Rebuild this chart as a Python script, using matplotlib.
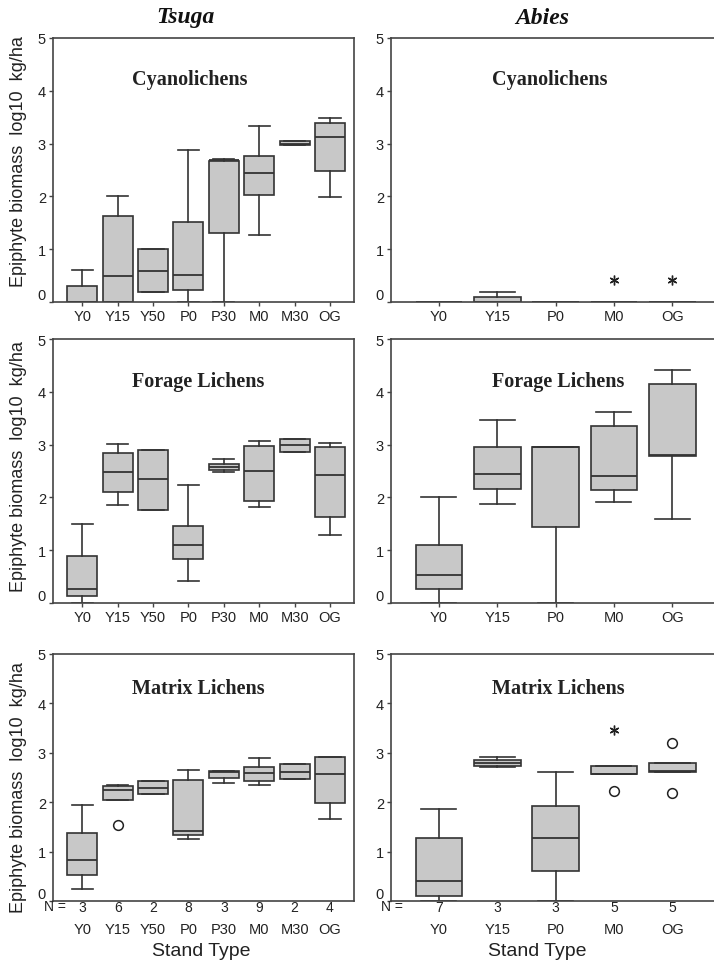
import matplotlib
matplotlib.use("Agg")
import matplotlib.pyplot as plt

plt.rcParams['font.family'] = ['Liberation Sans', 'DejaVu Sans']

W, H = 714, 979

tsuga_sites = ["Y0", "Y15", "Y50", "P0", "P30", "M0", "M30", "OG"]
abies_sites = ["Y0", "Y15", "P0", "M0", "OG"]
tsuga_n = [3, 6, 2, 8, 3, 9, 2, 4]
abies_n = [7, 3, 3, 5, 5]

# Cyanolichens, Tsuga
cy_t_lo = [0, 0, 0.18, 0, 0, 1.27, 2.97, 1.99]
cy_t_q1 = [0, 0, 0.18, 0.22, 1.31, 2.03, 2.97, 2.48]
cy_t_med = [0, 0.5, 0.58, 0.51, 2.68, 2.45, 3.0, 3.13]
cy_t_q3 = [0.3, 1.63, 1.01, 1.52, 2.67, 2.76, 3.04, 3.39]
cy_t_hi = [0.61, 2.0, 1.01, 2.87, 2.71, 3.34, 3.04, 3.48]

# Cyanolichens, Abies
cy_a_lo = [0, 0, 0, 0, 0]
cy_a_q1 = [0, 0, 0, 0, 0]
cy_a_med = [0, 0, 0, 0, 0]
cy_a_q3 = [0, 0.1, 0, 0, 0]
cy_a_hi = [0, 0.18, 0, 0, 0]
cy_a_star_pos = [3, 4]
cy_a_star_val = [0.41, 0.41]

# Forage lichens, Tsuga
fo_t_lo = [0, 1.85, 1.77, 0.41, 2.48, 1.81, 2.86, 1.28]
fo_t_q1 = [0.13, 2.1, 1.77, 0.83, 2.52, 1.93, 2.86, 1.62]
fo_t_med = [0.27, 2.49, 2.34, 1.1, 2.58, 2.5, 3.0, 2.43]
fo_t_q3 = [0.89, 2.85, 2.9, 1.45, 2.64, 2.97, 3.11, 2.96]
fo_t_hi = [1.5, 3.01, 2.9, 2.23, 2.72, 3.07, 3.11, 3.03]

# Forage lichens, Abies
fo_a_lo = [0, 1.88, 0, 1.91, 1.6]
fo_a_q1 = [0.26, 2.16, 1.44, 2.14, 2.79]
fo_a_med = [0.53, 2.45, 2.95, 2.41, 2.8]
fo_a_q3 = [1.09, 2.96, 2.96, 3.35, 4.14]
fo_a_hi = [2.0, 3.47, 2.96, 3.61, 4.41]

# Matrix lichens, Tsuga
ma_t_lo = [0.25, 2.05, 2.17, 1.25, 2.39, 2.34, 2.46, 1.66]
ma_t_q1 = [0.52, 2.05, 2.17, 1.34, 2.49, 2.43, 2.46, 1.99]
ma_t_med = [0.83, 2.24, 2.29, 1.42, 2.61, 2.6, 2.61, 2.58]
ma_t_q3 = [1.38, 2.32, 2.42, 2.45, 2.63, 2.71, 2.77, 2.91]
ma_t_hi = [1.95, 2.34, 2.42, 2.66, 2.64, 2.9, 2.77, 2.92]
ma_t_circ_pos = [1]
ma_t_circ_val = [1.54]

# Matrix lichens, Abies
ma_a_lo = [0, 2.72, 0, 2.57, 2.61]
ma_a_q1 = [0.1, 2.73, 0.61, 2.57, 2.62]
ma_a_med = [0.41, 2.79, 1.28, 2.57, 2.63]
ma_a_q3 = [1.27, 2.86, 1.93, 2.74, 2.79]
ma_a_hi = [1.87, 2.91, 2.61, 2.74, 2.79]
ma_a_circ_pos = [3, 4, 4]
ma_a_circ_val = [2.23, 3.2, 2.19]
ma_a_star_pos = [3]
ma_a_star_val = [3.47]

EDGE = "#333333"
FACE = "#c8c8c8"
TXT = "#222222"


def fx(px):
    return px / W


def fy(py):
    return 1 - py / H


def panel(rect, sites, lo, q1, med, q3, hi, width, xlim):
    ax = fig.add_axes(rect)
    stats = []
    for i in range(len(sites)):
        stats.append(dict(whislo=lo[i], q1=q1[i], med=med[i], q3=q3[i],
                          whishi=hi[i], fliers=[]))
    pos = list(range(1, len(sites) + 1))
    ax.bxp(stats, positions=pos, widths=width, capwidths=0.6,
           showfliers=False, patch_artist=True,
           boxprops=dict(facecolor=FACE, edgecolor=EDGE, linewidth=1.2),
           medianprops=dict(color=EDGE, linewidth=1.3),
           whiskerprops=dict(color=EDGE, linewidth=1.2),
           capprops=dict(color=EDGE, linewidth=1.2))
    ax.set_xlim(*xlim)
    ax.set_ylim(0, 5)
    ax.set_yticks([0, 1, 2, 3, 4, 5])
    ax.set_yticklabels(["0", "1", "2", "3", "4", "5"])
    ax.get_yticklabels()[0].set_va("bottom")
    ax.set_xticks(pos)
    ax.set_xticklabels(sites)
    for s in ax.spines.values():
        s.set_color("#444444")
        s.set_linewidth(1.2)
    ax.tick_params(direction="out", length=3, width=1, colors="#444444",
                   labelcolor=TXT, labelsize=10.5, pad=2)
    ax.set_facecolor("white")
    return ax


def circles(ax, pos, val):
    ax.plot([p + 1 for p in pos], val, linestyle="none", marker="o",
            markersize=7, markerfacecolor="none", markeredgecolor=TXT,
            markeredgewidth=1.1, clip_on=False)


def stars(ax, pos, val):
    ax.plot([p + 1 for p in pos], val, linestyle="none", marker=(6, 2, 0),
            markersize=7, color=TXT, markeredgewidth=1.0, clip_on=False)


fig = plt.figure(figsize=(W / 100, H / 100), dpi=100)

lx0, lx1 = 53, 354
rx0, rx1 = 391, 716
rows = [(39, 303), (340, 604), (655, 902)]
lxlim = (0.17, 8.68)
rxlim = (0.18, 5.75)


def lrect(r):
    return [fx(lx0), fy(r[1]), fx(lx1 - lx0), (r[1] - r[0]) / H]


def rrect(r):
    return [fx(rx0), fy(r[1]), fx(rx1 - rx0), (r[1] - r[0]) / H]


ax1 = panel(lrect(rows[0]), tsuga_sites, cy_t_lo, cy_t_q1, cy_t_med, cy_t_q3, cy_t_hi, 0.85, lxlim)
ax2 = panel(rrect(rows[0]), abies_sites, cy_a_lo, cy_a_q1, cy_a_med, cy_a_q3, cy_a_hi, 0.8, rxlim)
stars(ax2, cy_a_star_pos, cy_a_star_val)

ax3 = panel(lrect(rows[1]), tsuga_sites, fo_t_lo, fo_t_q1, fo_t_med, fo_t_q3, fo_t_hi, 0.85, lxlim)
ax4 = panel(rrect(rows[1]), abies_sites, fo_a_lo, fo_a_q1, fo_a_med, fo_a_q3, fo_a_hi, 0.8, rxlim)

ax5 = panel(lrect(rows[2]), tsuga_sites, ma_t_lo, ma_t_q1, ma_t_med, ma_t_q3, ma_t_hi, 0.85, lxlim)
circles(ax5, ma_t_circ_pos, ma_t_circ_val)
ax6 = panel(rrect(rows[2]), abies_sites, ma_a_lo, ma_a_q1, ma_a_med, ma_a_q3, ma_a_hi, 0.8, rxlim)
circles(ax6, ma_a_circ_pos, ma_a_circ_val)
stars(ax6, ma_a_star_pos, ma_a_star_val)

# bottom row: N counts under the axis, category names below them
for ax, ns in ((ax5, tsuga_n), (ax6, abies_n)):
    ax.tick_params(axis="x", length=0, pad=15)
    for i, n in enumerate(ns):
        ax.annotate(str(n), xy=(i + 1, 0), xycoords=("data", "axes fraction"),
                    xytext=(0, -4), textcoords="offset points",
                    ha="center", va="center", fontsize=10, color=TXT)
fig.text(fx(55), fy(907), "N =", ha="center", va="center", fontsize=10, color=TXT)
fig.text(fx(392), fy(907), "N =", ha="center", va="center", fontsize=10, color=TXT)

# panel titles
serif = ['Liberation Serif', 'DejaVu Serif']
for x, y, t in ((190, 80, "Cyanolichens"), (550, 80, "Cyanolichens"),
                (198, 382, "Forage Lichens"), (558, 382, "Forage Lichens"),
                (198, 689, "Matrix Lichens"), (558, 689, "Matrix Lichens")):
    fig.text(fx(x), fy(y), t, ha="center", va="center", family=serif,
             fontweight="bold", fontsize=14.5, color=TXT)

fig.text(fx(185), fy(18), "Tsuga", ha="center", va="center", family=serif,
         fontweight="bold", fontstyle="italic", fontsize=17, color="#111111")
fig.text(fx(542), fy(18), "Abies", ha="center", va="center", family=serif,
         fontweight="bold", fontstyle="italic", fontsize=17, color="#111111")

for yc in (162, 467, 788):
    fig.text(fx(19), fy(yc), "Epiphyte biomass  log10  kg/ha",
             rotation=90, ha="center", va="center", fontsize=13, color=TXT)

fig.text(fx(201), fy(952), "Stand Type", ha="center", va="center", fontsize=14, color=TXT)
fig.text(fx(537), fy(952), "Stand Type", ha="center", va="center", fontsize=14, color=TXT)

fig.savefig("out.png", dpi=100, facecolor="white")
